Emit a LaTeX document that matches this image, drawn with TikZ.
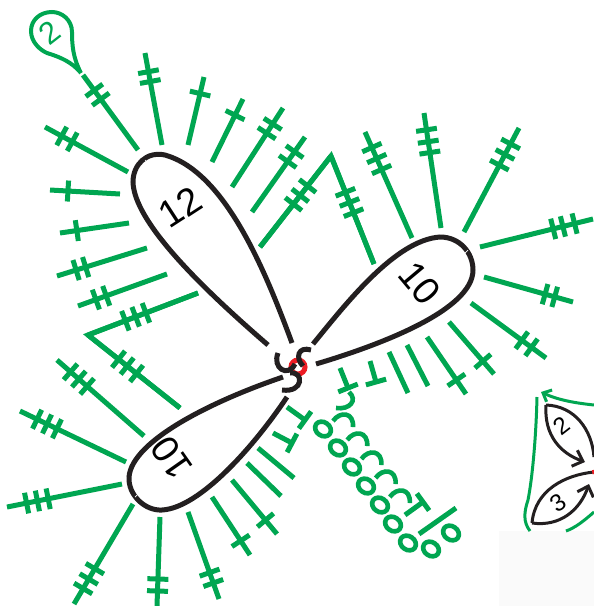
\documentclass[tikz,border=0pt]{standalone}
\usepackage{fontspec}
\setmainfont{Liberation Sans}
\usetikzlibrary{arrows.meta,calc}
\definecolor{YarnGreen}{HTML}{00A651}
\definecolor{LoopBlack}{HTML}{231F20}
\definecolor{RingRed}{HTML}{ED1C24}
\begin{document}
\begin{tikzpicture}[x=1pt,y=-1pt,
    stitch/.style={YarnGreen,line width=5pt},
    chain/.style={YarnGreen,line width=4.6pt},
    petal/.style={LoopBlack,line width=5pt},
    small/.style={LoopBlack,line width=3pt},
    barbtip/.style={-{Straight Barb[length=9pt,width=17pt]}},
    num/.style={font=\fontsize{#1}{#1}\selectfont,inner sep=0pt,text=black}]
    \useasboundingbox (0,0) rectangle (594,606);
    \fill[black!2] (499,531) rectangle (594,606);
    % stitches: inner end / outer end / bars, measured from the outer end
    \foreach \xa/\ya/\xb/\yb/\barlist in {
        138/150/83/75/{19,30},162/145/145/53/{19,29},188/145/204/77/{17},
        212/162/243/99/{18},232/187/283/108/{19,30},252/212/305/137/{18,30},
        260/247/331/156/{38,50,61},374/264/331/156/{39,50,61},
        128/172/45/127/{19,31},120/194/50/190/{18},129/223/60/233/{17},
        147/248/57/276/{20,30},167/274/78/306/{19,30},
        198/293/88/335/{40,51,62},180/408/88/335/{39,50,62},
        144/436/57/360/{18,29,40},126/462/20/411/{19,30,41},
        122/484/7/507/{20,31,42},133/504/74/604/{18,29,41},
        160/517/157/606/{15,27},188/512/219/599/{17,28},
        212/497/250/555/{17},232/480/277/534/{18},
        287/407/305/420/{0},273/433/292/443/{0},
        340/368/348/388/{0},370/361/376/382/{0},
        427/337/466/394/{17},449/322/494/374/{17},
        471/303/546/358/{18,30},484/277/573/302/{19,29},
        480/247/593/219/{19,31,41},464/232/519/128/{18,30,42},
        441/228/424/113/{17,29,40},412/238/365/132/{17,29,41},
        405/515/423/502/{0}}{
      \coordinate (in) at (\xa,\ya);
      \coordinate (out) at (\xb,\yb);
      \draw[stitch] (in)--(out);
      \foreach \d in \barlist {
        \coordinate (mid) at ($(out)!\d pt!(in)$);
        \draw[stitch] ($(mid)!10.5pt!90:(in)$)--($(mid)!10.5pt!-90:(in)$);
      }
    }
    \foreach \xa/\ya/\xb/\yb in {247/463/281/496,258/448/294/478,389/352/408/393,
        407/345/428/386,419/534/456/508}
      \draw[stitch] (\xa,\ya)--(\xb,\yb);
    \draw[stitch] (260,247)--(331,156)--(374,264);
    \draw[stitch] (198,293)--(88,335)--(180,408);
    % chain
    \foreach \cx/\cy in {323/429,338/448,352/467,366/486,380/505,393/524,408/543,431/549,451/533}
      \draw[chain] (\cx,\cy) ellipse [x radius=8.4,y radius=6.8,rotate=-35];
    \draw[chain] (349,392) .. controls (358,400) and (350,410) .. (336,408);
    \foreach \i in {0,...,4}
      \draw[chain,shift={(14.2*\i,19*\i)}] (333,421) .. controls (340,411) and (354,412) .. (353,427);
    % ring and hooks
    \draw[RingRed,line width=5pt] (298,367) circle [radius=7];
    \draw[petal] (311,350) .. controls (298,346) and (295,358) .. (303,366);
    \draw[petal] (278,353) .. controls (272,368) and (288,378) .. (295,364);
    \draw[petal] (290,373) .. controls (304,371) and (304,393) .. (282,390);
    % loops
    \draw[petal] (292,343) .. controls (265,270) and (225,172) .. (165,155)
      .. controls (146,151) and (133,165) .. (133,182)
      .. controls (134,220) and (195,282) .. (268,345);
    \draw[petal] (313,344) .. controls (345,305) and (395,240) .. (440,237)
      .. controls (460,237) and (473,253) .. (473,270)
      .. controls (473,310) and (380,345) .. (316,364);
    \draw[petal] (283,377) .. controls (215,400) and (132,440) .. (129,477)
      .. controls (128,495) and (145,511) .. (162,510)
      .. controls (200,508) and (255,445) .. (287,397);
    \draw[white,line width=.7pt] (145,160)--(149,164);
    \draw[white,line width=.7pt] (464,254)--(468,250);
    \draw[white,line width=.7pt] (135,497)--(139,493);
    \node[num=38,rotate=33] (twelve) at (180,207) {12};
    \node[num=38,rotate=-50] (tenright) at (420,283) {10};
    \node[num=38,rotate=125] (tenleft) at (172,458) {10};
    % beginning loop
    \draw[YarnGreen,line width=4pt] (81,73) .. controls (73,58) and (72,45) .. (72,32)
      .. controls (72,20) and (62,12) .. (52,12)
      .. controls (40,12) and (31,20) .. (31,31)
      .. controls (31,42) and (40,50) .. (47,53)
      .. controls (60,57) and (72,62) .. (81,73);
    \node[num=31,rotate=38,text=YarnGreen] (start) at (50,33) {2};
    % right fragment
    \draw[YarnGreen,line width=3pt] (537,397) .. controls (536,440) and (532,480) .. (528,500)
      .. controls (524,512) and (523,522) .. (530,531);
    \draw[YarnGreen,line width=3pt,-{Straight Barb[length=7pt,width=13pt]}] (594,405) .. controls (575,403) and (558,400) .. (541,392);
    \draw[YarnGreen,line width=3pt] (566,531) .. controls (575,528) and (585,520) .. (594,512);
    \draw[small] (594,457) .. controls (592,430) and (575,406) .. (546,405);
    \draw[small,barbtip] (546,405) .. controls (544,435) and (560,453) .. (585,462);
    \draw[small] (594,472) .. controls (565,475) and (535,490) .. (532,523);
    \draw[small,barbtip] (532,523) .. controls (560,527) and (580,510) .. (589,484);
    \draw[RingRed,line width=2.6pt] (593,470)--(594,474);
    \node[num=24,rotate=38] (two) at (562,426) {2};
    \node[num=24,rotate=35] (three) at (558,503) {3};
\end{tikzpicture}
\end{document}
